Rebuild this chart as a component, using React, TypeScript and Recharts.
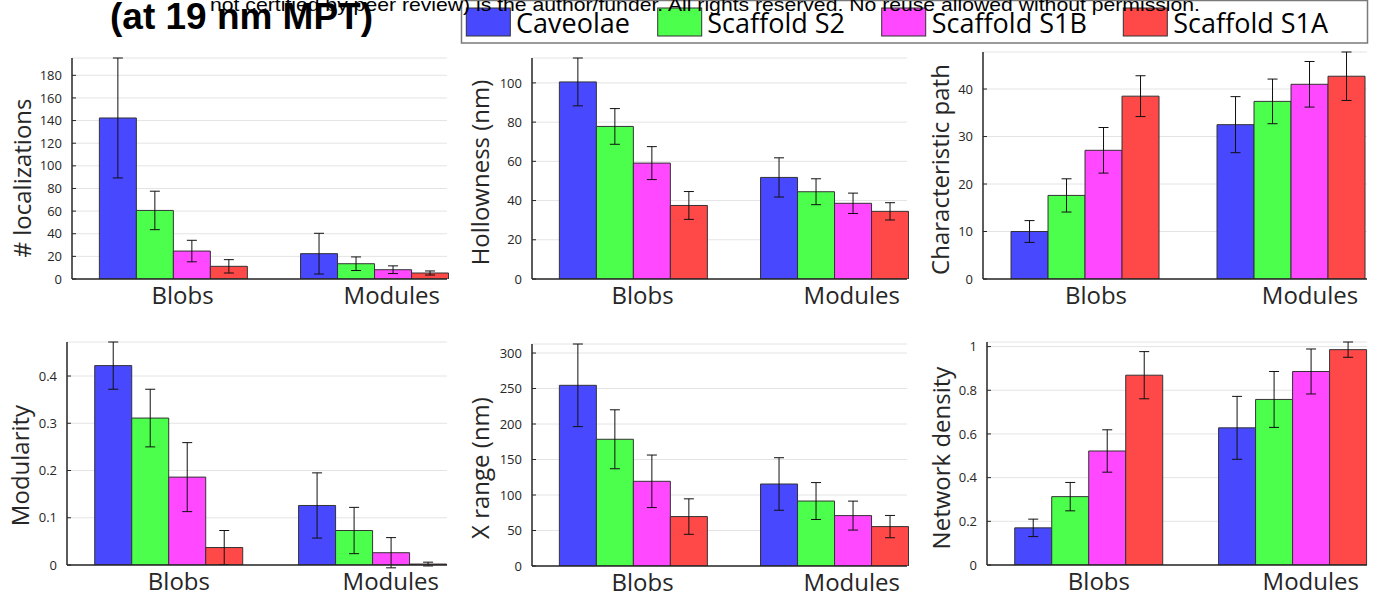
import React from 'react';
import { BarChart, Bar, XAxis, YAxis, CartesianGrid, ErrorBar } from 'recharts';

// ---------- data ----------
const categories = ['Blobs', 'Modules'];
const seriesNames = ['Caveolae', 'Scaffold S2', 'Scaffold S1B', 'Scaffold S1A'];
const seriesColors = ['#4848ff', '#4cff4c', '#ff48ff', '#ff4848'];

// values are [series][category]
const localizationsMean = [[142.3, 22.4], [60.6, 13.5], [24.7, 8.2], [11.2, 5.3]];
const localizationsErr = [[53.0, 18.0], [17.0, 6.0], [9.5, 3.4], [5.9, 1.8]];
const localizationsTicks = [0, 20, 40, 60, 80, 100, 120, 140, 160, 180];

const hollownessMean = [[100.5, 51.8], [77.8, 44.5], [59.1, 38.6], [37.5, 34.5]];
const hollownessErr = [[12.2, 10.0], [9.1, 6.6], [8.4, 5.2], [7.1, 4.4]];
const hollownessTicks = [0, 20, 40, 60, 80, 100];

const pathMean = [[10.0, 32.5], [17.6, 37.4], [27.1, 41.0], [38.5, 42.7]];
const pathErr = [[2.3, 5.9], [3.5, 4.7], [4.8, 4.8], [4.3, 5.1]];
const pathTicks = [0, 10, 20, 30, 40];

const modularityMean = [[0.422, 0.126], [0.311, 0.073], [0.186, 0.026], [0.037, 0.002]];
const modularityErr = [[0.05, 0.069], [0.061, 0.049], [0.073, 0.032], [0.036, 0.004]];
const modularityTicks = [0, 0.1, 0.2, 0.3, 0.4];

const xRangeMean = [[254.5, 115.5], [178.5, 91.5], [119.3, 71.0], [69.6, 55.5]];
const xRangeErr = [[58.2, 37.0], [41.5, 26.0], [37.0, 20.4], [25.0, 15.7]];
const xRangeTicks = [0, 50, 100, 150, 200, 250, 300];

const densityMean = [[0.170, 0.628], [0.313, 0.758], [0.522, 0.886], [0.869, 0.986]];
const densityErr = [[0.040, 0.144], [0.065, 0.128], [0.097, 0.103], [0.108, 0.035]];
const densityTicks = [0, 0.2, 0.4, 0.6, 0.8, 1];

const titleText = '(at 19 nm MPT)';
const watermarkText =
  'not certified by peer review) is the author/funder. All rights reserved. No reuse allowed without permission.';

// ---------- helpers ----------
const FONT = '"Open Sans", "DejaVu Sans", sans-serif';
const AXIS = '#262626';
const labelShift = [10, 18];

function buildData(means: number[][], errs: number[][]) {
  return categories.map((cat, ci) => {
    const row: Record<string, number | string> = { cat };
    seriesNames.forEach((_, s) => {
      row[`s${s}`] = means[s][ci];
      row[`e${s}`] = errs[s][ci];
    });
    return row;
  });
}

const CatTick = (props: any) => {
  const { x, y, payload, index } = props;
  return (
    <text
      x={x + labelShift[index ?? 0]}
      y={y + 16.5}
      textAnchor="middle"
      fontFamily={FONT}
      fontSize={24}
      fill={AXIS}
    >
      {payload.value}
    </text>
  );
};

type PanelProps = {
  L: number;
  T: number;
  W: number;
  H: number;
  means: number[][];
  errs: number[][];
  ticks: number[];
};

function Panel({ L, T, W, H, means, errs, ticks }: PanelProps) {
  const ML = 50, MR = 2, MT = 2, MB = 40;
  const data = buildData(means, errs);
  const yMax = Math.max(...means.flatMap((row, s) => row.map((v, c) => v + errs[s][c])));
  const band = W / 1.864;
  const padR = W - 2 * band;
  return (
    <div style={{ position: 'absolute', left: L - ML, top: T - MT }}>
      <BarChart
        width={W + ML + MR}
        height={H + MT + MB}
        data={data}
        margin={{ top: MT, right: MR, bottom: 0, left: 0 }}
        barCategoryGap="13.6%"
        barGap={0}
      >
        <CartesianGrid horizontal vertical={false} stroke="#e4e4e4" strokeWidth={1} />
        <XAxis
          dataKey="cat"
          height={MB}
          padding={{ left: 0, right: padR }}
          tickLine={false}
          axisLine={{ stroke: AXIS, strokeWidth: 1.5 }}
          tick={<CatTick />}
          interval={0}
        />
        <XAxis
          xAxisId="top"
          orientation="top"
          dataKey="cat"
          height={0}
          padding={{ left: 0, right: padR }}
          tick={false}
          tickSize={-4}
          tickLine={{ stroke: AXIS }}
          axisLine={{ stroke: AXIS, strokeWidth: 1 }}
          interval={0}
        />
        <YAxis
          width={ML}
          type="number"
          domain={[0, yMax]}
          ticks={ticks}
          allowDataOverflow
          interval={0}
          tickSize={-4}
          tickMargin={14}
          tickLine={{ stroke: AXIS }}
          axisLine={{ stroke: AXIS, strokeWidth: 1.5 }}
          tick={{ fontSize: 13, fill: AXIS, fontFamily: FONT }}
        />
        <YAxis
          yAxisId="right"
          orientation="right"
          width={0}
          type="number"
          domain={[0, yMax]}
          ticks={ticks}
          allowDataOverflow
          interval={0}
          tick={false}
          tickSize={-4}
          tickLine={{ stroke: AXIS }}
          axisLine={{ stroke: AXIS, strokeWidth: 1 }}
        />
        {seriesNames.map((name, s) => (
          <Bar
            key={name}
            dataKey={`s${s}`}
            name={name}
            fill={seriesColors[s]}
            stroke="#333333"
            strokeWidth={1}
            isAnimationActive={false}
          >
            <ErrorBar dataKey={`e${s}`} width={5} stroke="#111111" strokeWidth={1} direction="y" />
          </Bar>
        ))}
      </BarChart>
    </div>
  );
}

const panels = [
  { L: 72, T: 58, W: 375, H: 221, means: localizationsMean, errs: localizationsErr, ticks: localizationsTicks, label: '# localizations', lx: 31, ly: 178 },
  { L: 532, T: 58, W: 375, H: 221, means: hollownessMean, errs: hollownessErr, ticks: hollownessTicks, label: 'Hollowness (nm)', lx: 489, ly: 172.5 },
  { L: 983, T: 52, W: 384, H: 227, means: pathMean, errs: pathErr, ticks: pathTicks, label: 'Characteristic path', lx: 949, ly: 169.5 },
  { L: 67, T: 342, W: 380, H: 223, means: modularityMean, errs: modularityErr, ticks: modularityTicks, label: 'Modularity', lx: 29, ly: 465.5 },
  { L: 532, T: 344, W: 375, H: 222, means: xRangeMean, errs: xRangeErr, ticks: xRangeTicks, label: 'X range (nm)', lx: 489, ly: 468 },
  { L: 987, T: 342, W: 380, H: 223, means: densityMean, errs: densityErr, ticks: densityTicks, label: 'Network density', lx: 950, ly: 458 },
];

const legendSwatchX = [466.3, 657.7, 881.7, 1123.3];
const legendTextX = [516, 707.3, 931.7, 1173.3];

export default function App() {
  return (
    <div
      style={{
        position: 'absolute',
        left: 0,
        top: 0,
        width: 1379,
        height: 597,
        background: '#ffffff',
        overflow: 'hidden',
        fontFamily: FONT,
      }}
    >
      {panels.map((p, i) => (
        <Panel key={i} L={p.L} T={p.T} W={p.W} H={p.H} means={p.means} errs={p.errs} ticks={p.ticks} />
      ))}
      <svg
        width={1379}
        height={597}
        style={{ position: 'absolute', left: 0, top: 0, pointerEvents: 'none' }}
      >
        {panels.map((p, i) => (
          <text
            key={i}
            transform={`translate(${p.lx},${p.ly}) rotate(-90)`}
            textAnchor="middle"
            fontFamily={FONT}
            fontSize={24}
            fill={AXIS}
          >
            {p.label}
          </text>
        ))}
        {/* legend */}
        <rect x={461.5} y={0.5} width={906} height={42.5} fill="#ffffff" stroke="#7a7a7a" strokeWidth={1.5} />
        {seriesNames.map((name, s) => (
          <g key={name}>
            <rect x={legendSwatchX[s]} y={8} width={44} height={28} fill={seriesColors[s]} stroke="#333333" strokeWidth={1} />
            <text x={legendTextX[s]} y={33} fontFamily={FONT} fontSize={27} fill="#000000">
              {name}
            </text>
          </g>
        ))}
        {/* title */}
        <text
          x={110}
          y={28.5}
          fontFamily='"Liberation Sans", Arial, sans-serif'
          fontWeight="bold"
          fontSize={36}
          textLength={263}
          lengthAdjust="spacingAndGlyphs"
          fill="#000000"
        >
          {titleText}
        </text>
        {/* watermark */}
        <text
          x={210}
          y={10.5}
          fontFamily='"Liberation Sans", Arial, sans-serif'
          fontSize={19}
          textLength={990}
          lengthAdjust="spacingAndGlyphs"
          fill="#000000"
        >
          {watermarkText}
        </text>
      </svg>
    </div>
  );
}
